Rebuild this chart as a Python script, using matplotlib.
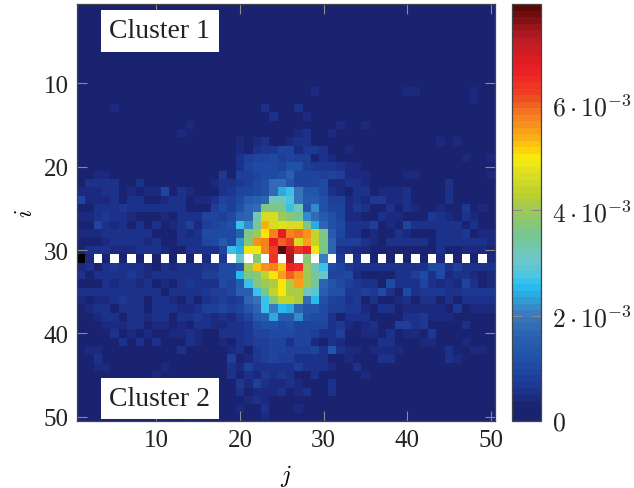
import numpy as np
import matplotlib
matplotlib.use('Agg')
import matplotlib.pyplot as plt
from matplotlib.colors import LinearSegmentedColormap

W = np.nan  # white cells on row 31
K = -1      # the black cell on row 31

tick_i = [10, 20, 30, 40, 50]
tick_j = [10, 20, 30, 40, 50]
bar_ticks = [0, 2e-3, 4e-3, 6e-3]
bar_labels = ['$0$', r'$2 \cdot 10^{-3}$', r'$4 \cdot 10^{-3}$', r'$6 \cdot 10^{-3}$']
vmax = 7.92e-3

# cell values in units of 1e-4, columns j=1..25
left = [
    [1,1,1,1,1, 1,1,1,1,1, 1,1,1,1,1, 1,1,1,1,1, 1,1,1,1,1],
    [1,1,1,1,1, 1,1,1,1,1, 1,1,1,1,1, 1,1,1,1,1, 1,1,1,1,1],
    [3,1,1,1,1, 1,1,1,1,1, 1,1,1,1,1, 1,1,1,1,1, 1,1,1,1,1],
    [1,1,1,1,1, 1,1,1,1,1, 1,1,1,1,1, 1,1,1,1,1, 1,1,1,1,1],
    [1,1,1,1,1, 1,1,1,1,1, 1,1,1,1,1, 1,1,1,1,1, 1,1,1,1,1],
    [1,1,1,1,1, 1,1,1,1,1, 1,1,1,1,1, 1,1,1,1,1, 1,1,1,1,1],
    [1,1,1,1,1, 1,1,1,1,1, 1,1,1,1,1, 1,1,1,1,1, 3,1,1,1,3],
    [1,1,1,1,1, 1,1,1,1,1, 1,1,1,1,1, 3,1,1,1,1, 1,1,1,1,1],
    [1,1,1,1,1, 1,1,1,1,1, 3,1,1,1,1, 1,1,1,1,1, 1,1,1,1,1],
    [1,1,1,1,1, 1,1,1,1,1, 1,1,1,1,1, 1,1,1,1,1, 1,1,1,1,1],
    [1,1,1,1,1, 1,1,1,1,1, 1,1,1,1,1, 1,1,1,1,1, 1,1,1,1,1],
    [1,1,1,1,1, 1,1,1,1,1, 1,1,1,1,1, 1,1,1,1,1, 1,1,1,1,1],
    [1,1,1,1,4, 1,1,1,1,1, 1,1,1,1,1, 1,1,1,1,1, 1,1,5,1,1],
    [1,1,1,1,1, 1,1,1,1,1, 1,3,1,1,1, 1,1,1,1,1, 3,1,3,5,3],
    [1,1,1,1,1, 1,1,1,1,1, 1,1,1,4,1, 1,1,1,1,1, 1,3,3,3,1],
    [1,1,1,1,1, 1,1,1,1,1, 1,1,4,1,1, 1,1,1,1,1, 1,1,3,3,1],
    [3,2,2,3,3, 2,2,2,2,2, 2,2,2,2,2, 2,2,2,2,4, 2,4,5,3,3],
    [3,2,3,3,3, 2,2,2,2,2, 2,2,2,2,2, 3,3,2,3,4, 3,5,7,7,9],
    [2,2,3,2,2, 2,2,2,2,2, 2,2,2,2,2, 3,2,3,1,5, 8,9,9,11,8],
    [2,2,2,2,2, 2,2,2,2,2, 2,2,2,2,2, 3,2,3,2,5, 9,10,10,11,9],
    [3,2,4,4,2, 2,2,2,2,2, 2,3,2,2,2, 3,2,7,1,8, 8,9,10,10,12],
    [2,6,6,6,6, 2,2,6,3,3, 2,2,3,2,3, 2,4,5,5,7, 8,10,12,18,18],
    [4,4,4,6,6, 3,4,3,4,4, 9,3,5,4,2, 2,3,6,7,9, 9,10,12,18,24],
    [9,4,4,4,5, 3,5,5,3,2, 4,5,5,3,4, 4,6,9,8,10, 14,15,17,32,32],
    [3,3,5,5,6, 7,5,6,5,5, 6,6,6,2,3, 2,8,11,8,12, 17,18,36,37,37],
    [4,4,5,7,6, 5,4,3,2,2, 4,2,6,6,6, 9,9,8,11,15, 17,33,46,46,40],
    [3,3,9,6,4, 5,2,5,3,6, 3,4,6,8,4, 8,9,10,12,27, 22,35,54,46,48],
    [4,4,4,6,6, 5,5,5,6,3, 3,3,5,4,6, 10,10,10,10,15, 36,40,50,58,68],
    [3,3,3,4,5, 5,5,5,4,5, 3,3,5,5,6, 9,10,14,10,23, 38,56,58,67,60],
    [3,6,5,5,4, 4,4,5,5,5, 4,1,1,5,5, 6,6,9,27,24, 49,50,58,63,79],
    [K,4,W,3,W, 3,W,3,W,2, W,1,W,3,W, 4,W,7,W,30, W,38,W,64,W],
    [4,5,3,6,7, 6,6,6,4,3, 6,4,5,5,6, 7,7,10,11,13, 40,52,56,57,53],
    [5,2,5,5,6, 6,7,5,4,5, 6,6,5,5,6, 8,8,11,11,25, 36,38,44,50,55],
    [2,2,2,5,4, 6,5,4,5,3, 4,2,5,7,5, 5,6,10,9,14, 27,38,40,42,50],
    [6,6,6,5,5, 6,5,6,5,5, 3,5,5,6,5, 7,8,8,9,15, 15,26,36,44,50],
    [4,3,4,4,5, 7,5,5,3,5, 5,4,3,5,3, 6,7,8,7,8, 17,19,27,38,44],
    [3,4,5,5,3, 5,5,5,3,5, 5,5,4,4,5, 8,8,9,8,9, 13,17,26,21,25],
    [2,2,4,5,5, 3,5,5,4,5, 5,3,5,6,7, 6,4,6,4,7, 9,14,15,24,14],
    [2,2,2,4,4, 4,5,5,3,4, 4,3,4,3,5, 6,4,4,5,6, 7,10,12,12,11],
    [2,2,3,3,5, 3,4,2,4,2, 3,4,4,5,4, 3,2,6,6,6, 7,9,9,10,11],
    [2,2,2,3,3, 5,3,5,3,5, 3,3,3,5,4, 3,3,4,3,6, 7,8,8,9,9],
    [2,4,4,3,3, 3,3,3,3,3, 3,3,5,3,3, 3,3,3,4,5, 2,7,8,9,9],
    [2,2,5,3,3, 3,3,3,3,3, 3,3,3,2,2, 2,2,3,8,3, 4,7,8,9,8],
    [2,2,4,4,3, 3,3,3,3,3, 4,3,3,2,2, 2,2,3,5,4, 8,5,6,6,6],
    [2,2,2,3,3, 3,3,3,3,4, 3,3,3,3,3, 2,2,2,5,3, 6,4,7,6,7],
    [2,2,3,3,3, 3,3,3,3,3, 3,3,3,3,3, 2,2,2,3,7, 4,8,6,4,4],
    [2,2,3,3,3, 3,3,3,3,3, 3,3,3,3,3, 2,2,2,3,5, 3,4,4,4,5],
    [2,2,2,3,3, 3,3,3,3,3, 3,3,3,3,3, 2,2,2,2,3, 4,5,4,3,3],
    [2,2,2,2,2, 2,2,2,2,2, 2,2,2,2,2, 2,2,2,3,4, 3,3,5,3,3],
    [2,2,2,2,2, 2,2,2,2,2, 4,2,2,4,2, 2,2,2,2,2, 2,3,4,3,2],
]

# same rows, columns j=26..50
right = [
    [1,1,1,1,1, 1,1,1,1,1, 1,1,1,3,1, 1,1,1,1,1, 1,1,1,1,1],
    [1,1,1,1,1, 1,1,1,1,1, 1,1,1,1,1, 1,1,1,1,1, 1,1,1,1,1],
    [1,1,1,1,1, 1,1,1,1,1, 1,1,1,1,1, 1,1,1,1,1, 1,1,1,1,1],
    [1,1,1,1,1, 1,1,1,1,1, 1,1,1,1,1, 1,1,1,1,1, 1,1,1,1,1],
    [1,1,1,1,1, 1,1,1,1,1, 1,1,1,1,1, 1,1,1,1,1, 1,1,1,1,1],
    [1,1,1,1,1, 1,1,1,1,1, 1,1,1,1,1, 1,1,1,1,1, 1,1,1,1,1],
    [3,3,1,1,1, 1,1,1,1,1, 1,1,1,1,1, 1,1,1,1,1, 1,1,1,1,1],
    [1,1,1,1,1, 1,1,1,1,1, 1,1,1,1,1, 1,1,1,1,1, 1,1,1,1,1],
    [1,1,1,1,1, 1,1,1,1,1, 1,1,1,1,1, 1,1,1,1,1, 1,1,1,1,1],
    [1,1,1,1,1, 1,1,1,1,1, 1,1,1,1,1, 1,1,1,1,1, 1,1,1,1,1],
    [1,1,1,4,1, 1,1,1,1,1, 1,1,1,1,4, 4,1,1,1,1, 1,1,4,1,1],
    [1,1,1,1,1, 1,1,1,1,1, 1,1,1,1,1, 1,1,1,1,1, 1,1,4,1,1],
    [1,5,1,1,1, 1,1,1,1,1, 1,1,1,1,1, 1,1,1,1,1, 1,1,1,1,1],
    [1,1,4,1,1, 1,1,1,1,1, 1,1,1,1,1, 1,1,1,1,1, 1,1,1,1,1],
    [1,1,1,1,1, 1,4,1,1,4, 1,1,1,1,1, 1,1,1,1,1, 1,1,1,1,1],
    [1,4,6,3,1, 4,1,1,1,1, 1,1,1,1,1, 1,1,1,1,1, 1,1,1,1,1],
    [4,5,5,2,3, 2,2,2,2,2, 2,2,2,2,2, 2,2,2,4,2, 4,2,2,2,2],
    [9,4,7,7,6, 3,2,4,2,2, 2,2,2,2,2, 2,2,2,2,2, 2,2,2,2,2],
    [9,8,8,3,6, 4,2,2,2,2, 2,2,2,2,2, 2,2,2,2,3, 2,4,2,2,4],
    [12,12,8,7,7, 7,5,4,4,2, 2,2,2,2,2, 2,2,2,3,3, 2,2,2,2,3],
    [15,9,9,9,8, 9,8,4,4,4, 2,2,2,2,4, 4,2,2,2,2, 3,3,3,2,4],
    [13,9,9,9,10, 4,4,6,6,4, 2,2,2,2,2, 3,2,3,2,6, 3,3,3,3,3],
    [27,19,13,13,10, 5,4,3,5,6, 2,4,4,4,6, 2,2,3,2,6, 2,3,3,2,2],
    [28,19,14,14,12, 8,8,4,5,4, 7,7,4,4,5, 2,3,2,2,5, 2,3,2,2,2],
    [27,31,13,22,12, 9,9,4,7,5, 2,2,5,2,5, 4,2,2,4,2, 2,7,3,4,2],
    [38,35,22,18,14, 12,9,4,4,3, 2,6,4,4,3, 3,2,7,5,4, 3,5,4,3,3],
    [46,46,36,24,17, 12,10,6,5,5, 8,3,4,3,9, 5,5,5,5,5, 5,3,5,3,3],
    [58,59,56,44,37, 14,9,5,5,2, 4,2,3,5,4, 2,2,2,6,5, 5,7,1,4,4],
    [63,46,55,44,36, 17,8,8,8,5, 4,3,6,5,6, 5,6,3,5,5, 5,6,6,6,4],
    [72,64,68,49,36, 17,6,5,4,4, 3,3,2,2,0, 2,3,3,5,3, 3,4,4,4,3],
    [74,W,38,W,20, W,7,W,5,W, 3,W,2,W,1, W,3,W,4,W, 2,W,2,W,4],
    [66,65,40,32,26, 10,9,7,6,5, 5,5,5,6,5, 5,5,10,10,6, 8,6,5,5,5],
    [60,56,40,34,30, 9,9,11,4,3, 2,2,2,5,5, 8,10,6,10,4, 5,5,4,3,4],
    [41,55,40,34,17, 13,10,8,7,5, 5,3,10,5,5, 6,9,5,4,5, 4,9,5,3,4],
    [42,42,31,29,15, 12,12,7,7,8, 7,11,5,2,10, 6,7,7,7,6, 6,7,7,7,7],
    [44,42,18,25,12, 9,8,6,7,2, 5,3,3,4,5, 2,6,6,2,5, 2,6,6,6,5],
    [24,17,13,13,10, 8,8,7,7,4, 3,6,6,3,4, 4,4,4,4,3, 7,3,4,4,4],
    [14,22,12,11,11, 6,3,5,5,5, 3,3,3,3,5, 6,7,4,4,4, 2,3,3,3,3],
    [12,9,9,9,9, 5,7,4,2,4, 6,3,3,8,8, 6,7,3,3,3, 3,5,3,3,3],
    [11,9,9,8,6, 6,8,3,3,4, 4,3,6,2,4, 4,2,7,3,3, 3,3,3,3,3],
    [6,9,9,4,3, 6,4,3,3,3, 3,5,6,3,2, 2,4,4,3,3, 3,4,2,3,3],
    [8,8,8,9,5, 13,5,4,4,3, 4,4,4,4,3, 2,2,3,3,5, 3,3,4,4,3],
    [8,6,6,5,5, 3,3,4,2,3, 3,5,6,3,2, 2,2,3,3,5, 4,3,3,2,3],
    [5,8,6,6,6, 4,3,2,6,2, 2,2,2,2,2, 2,2,2,2,2, 2,2,2,2,2],
    [6,3,3,5,3, 3,2,2,2,4, 2,2,3,2,2, 3,2,2,2,2, 2,2,2,2,2],
    [6,4,3,1,3, 6,2,2,2,2, 2,2,3,3,3, 3,2,2,2,2, 2,2,2,3,2],
    [2,4,5,2,2, 5,2,2,2,2, 2,2,2,2,2, 2,2,3,2,2, 2,2,2,2,2],
    [2,3,3,3,3, 2,3,2,2,2, 2,2,2,2,3, 2,2,2,2,2, 2,2,2,2,2],
    [2,4,3,3,2, 2,2,2,2,3, 2,2,2,2,3, 2,2,2,2,2, 3,2,2,2,2],
    [2,2,2,2,2, 2,2,2,2,2, 2,3,3,2,2, 2,2,2,3,2, 2,2,2,2,2],
]

cells = np.hstack([np.array(left, dtype=float), np.array(right, dtype=float)]) * 1e-4

# colours taken from the colorbar
anchors = [(0.0, '#1a2370'), (0.03, '#1a2370'), (0.07, '#1d3590'), (0.14, '#2050a8'),
           (0.20, '#2a62b0'), (0.25, '#3a78bc'), (0.29, '#2f9fd8'),
           (0.32, '#27bdf0'), (0.35, '#50c6e0'), (0.39, '#6fc7c4'), (0.45, '#78c68e'),
           (0.50, '#98c860'), (0.54, '#b8d030'), (0.60, '#e0e020'), (0.63, '#f8ec0a'),
           (0.66, '#fdca0a'), (0.69, '#faa61a'), (0.74, '#f47a20'), (0.79, '#ee3f24'),
           (0.85, '#ed1c24'), (0.925, '#b81c24'), (1.0, '#5c0808')]
cmap = LinearSegmentedColormap.from_list('bar', anchors, N=64)
cmap.set_bad('white')
cmap.set_under('black')

plt.rcParams['font.family'] = ['Liberation Serif', 'DejaVu Serif']
plt.rcParams['mathtext.fontset'] = 'cm'

fig = plt.figure(figsize=(6.34, 4.89), dpi=100)
ax = fig.add_axes([77/634, 1 - 422/489, 418/634, 417/489])
im = ax.imshow(cells, cmap=cmap, vmin=0, vmax=vmax, aspect='auto',
               extent=(0.5, 50.5, 50.5, 0.5), interpolation='nearest')

grey = '#8a8a8a'
ax.set_xticks(tick_j)
ax.set_yticks(tick_i)
ax.tick_params(direction='in', length=7.5, width=0.8, color=grey, top=True, right=True,
               labelsize=18, labelcolor='#222222', pad=6)
for s in ax.spines.values():
    s.set_color('#444444')
    s.set_linewidth(0.9)
ax.set_xlabel('$j$', fontsize=17, labelpad=8)
ax.set_ylabel('$i$', fontsize=17, labelpad=5)

box = dict(facecolor='white', edgecolor='none', boxstyle='square,pad=0.3')
ax.text(10.4, 3.7, 'Cluster 1', ha='center', va='center', fontsize=20, color='#222222', bbox=box)
ax.text(10.4, 47.8, 'Cluster 2', ha='center', va='center', fontsize=20, color='#222222', bbox=box)

cax = fig.add_axes([512/634, 1 - 422/489, 29/634, 417/489])
cb = fig.colorbar(im, cax=cax)
cb.set_ticks(bar_ticks)
cb.set_ticklabels(bar_labels)
cb.outline.set_edgecolor('#444444')
cb.outline.set_linewidth(0.9)
cax.tick_params(direction='in', length=7.5, width=0.8, color=grey, left=True, right=True,
                labelsize=18.5, labelcolor='#222222', pad=8)

fig.savefig('out.png', dpi=100)
